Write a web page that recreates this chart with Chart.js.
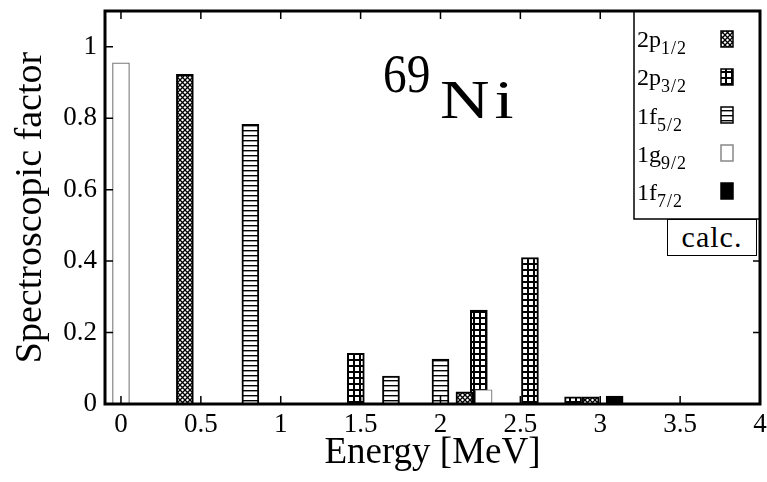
<!DOCTYPE html>
<html>
<head>
<meta charset="utf-8">
<script src="https://cdn.jsdelivr.net/npm/chart.js@4.4.0/dist/chart.umd.min.js"></script>
<style>
  html, body { margin:0; padding:0; background:#fff; }
  #wrap { position:relative; width:767px; height:482px; font-family:"Liberation Serif", "DejaVu Serif", serif; color:#000; }
  #chart { position:absolute; left:0; top:0; }
  .lab { position:absolute; left:637px; font-size:24px; line-height:1; white-space:nowrap; }
  .lab sub { font-size:18px; vertical-align:-7px; line-height:0; letter-spacing:1px; }
  #calc { position:absolute; left:667px; top:219px; width:90px; height:37px; box-sizing:border-box; border:1.5px solid #000; background:#fff; font-size:30px; line-height:34px; text-align:center; letter-spacing:1px; }
  #mass { position:absolute; left:383px; top:46px; font-size:55px; line-height:1; transform:scaleX(0.86); transform-origin:left top; }
  #elem { position:absolute; left:440px; top:73px; font-size:54px; line-height:1; letter-spacing:4px; transform:scaleX(1.27); transform-origin:left top; }
</style>
</head>
<body>
<div id="wrap">
  <canvas id="chart" width="767" height="482"></canvas>
  <div class="lab" style="top:27px">2p<sub>1/2</sub></div>
  <div class="lab" style="top:65px">2p<sub>3/2</sub></div>
  <div class="lab" style="top:104px">1f<sub>5/2</sub></div>
  <div class="lab" style="top:142px">1g<sub>9/2</sub></div>
  <div class="lab" style="top:180px">1f<sub>7/2</sub></div>
  <div id="calc">calc.</div>
  <div id="mass">69</div>
  <div id="elem">Ni</div>
</div>
<script>
// energies [MeV] and spectroscopic factors, per orbital
var p12E = [0.40, 2.15, 2.94];
var p12S = [0.923, 0.034, 0.02];
var p32E = [1.47, 2.24, 2.56, 2.83];
var p32S = [0.142, 0.263, 0.41, 0.02];
var f52E = [0.81, 1.69, 2.00];
var f52S = [0.783, 0.078, 0.126];
var g92E = [0.00, 2.27];
var g92S = [0.955, 0.04];
var f72E = [3.09];
var f72S = [0.022];

var xTicks = [0, 0.5, 1, 1.5, 2, 2.5, 3, 3.5, 4];
var yTicks = [0, 0.2, 0.4, 0.6, 0.8, 1];

var serif = '"Liberation Serif", "DejaVu Serif", serif';

function makePattern(size, draw) {
  var c = document.createElement('canvas');
  c.width = size; c.height = size;
  var g = c.getContext('2d');
  draw(g, size);
  return g.createPattern(c, 'repeat');
}

var crossHatch = makePattern(5, function(g, s) {
  g.fillStyle = '#fff'; g.fillRect(0, 0, s, s);
  g.strokeStyle = '#000'; g.lineWidth = 1.3;
  g.beginPath();
  g.moveTo(0, 0); g.lineTo(s, s);
  g.moveTo(s, 0); g.lineTo(0, s);
  g.stroke();
});
var squares = makePattern(6, function(g, s) {
  g.fillStyle = '#000'; g.fillRect(0, 0, s, s);
  g.fillStyle = '#fff'; g.fillRect(1, 1, 4, 4);
});
var stripes = makePattern(5, function(g, s) {
  g.fillStyle = '#fff'; g.fillRect(0, 0, s, s);
  g.fillStyle = '#000'; g.fillRect(0, 0, s, 1.4);
});

function pts(E, S) {
  return E.map(function(e, i) { return {x: e, y: S[i]}; });
}

var series = [
  {data: pts(g92E, g92S), backgroundColor: '#fff', borderColor: '#777', borderWidth: 1.2},
  {data: pts(p12E, p12S), backgroundColor: crossHatch, borderColor: '#000', borderWidth: 2},
  {data: pts(f52E, f52S), backgroundColor: stripes, borderColor: '#000', borderWidth: 2},
  {data: pts(p32E, p32S), backgroundColor: squares, borderColor: '#000', borderWidth: 2},
  {data: pts(f72E, f72S), backgroundColor: '#000', borderColor: '#000', borderWidth: 2}
];
series.forEach(function(d) { d.grouped = false; d.barThickness = 17; });

// legend swatches, same order as the text rows
var swatches = [
  {fill: crossHatch, stroke: '#000'},
  {fill: squares, stroke: '#000'},
  {fill: stripes, stroke: '#000'},
  {fill: '#fff', stroke: '#888'},
  {fill: '#000', stroke: '#000'}
];

var frame = {
  id: 'frame',
  afterDatasetsDraw: function(chart) {
    var ctx = chart.ctx, a = chart.chartArea;
    var xs = chart.scales.x, ys = chart.scales.y;
    ctx.save();
    ctx.strokeStyle = '#000';
    ctx.lineWidth = 1.5;
    ctx.beginPath();
    xTicks.forEach(function(v) {
      var px = xs.getPixelForValue(v);
      ctx.moveTo(px, a.bottom); ctx.lineTo(px, a.bottom - 8);
      ctx.moveTo(px, a.top); ctx.lineTo(px, a.top + 8);
    });
    yTicks.forEach(function(v) {
      var py = ys.getPixelForValue(v);
      ctx.moveTo(a.left, py); ctx.lineTo(a.left + 8, py);
      ctx.moveTo(a.right, py); ctx.lineTo(a.right - 7, py);
    });
    ctx.stroke();

    // legend box
    ctx.fillStyle = '#fff';
    ctx.fillRect(634, a.top, a.right - 634, 219 - a.top);
    ctx.lineWidth = 1.5;
    ctx.strokeRect(634, a.top, a.right - 634, 219 - a.top);
    swatches.forEach(function(s, i) {
      var y = 31 + 38 * i;
      ctx.fillStyle = s.fill;
      ctx.fillRect(721, y, 12, 16);
      ctx.strokeStyle = s.stroke;
      ctx.lineWidth = 1.5;
      ctx.strokeRect(721, y, 12, 16);
    });

    ctx.strokeStyle = '#000';
    ctx.lineWidth = 3;
    ctx.strokeRect(a.left, a.top, a.right - a.left, a.bottom - a.top);
    ctx.restore();
  }
};

new Chart(document.getElementById('chart'), {
  type: 'bar',
  data: {datasets: series},
  options: {
    responsive: false,
    animation: false,
    layout: {padding: {top: 11, right: 7, left: 0, bottom: 0}},
    plugins: {legend: {display: false}, tooltip: {enabled: false}},
    scales: {
      x: {
        type: 'linear', min: -0.1, max: 4, offset: false,
        afterBuildTicks: function(s) { s.ticks = xTicks.map(function(v) { return {value: v}; }); },
        afterFit: function(s) { s.height = 78; s.paddingLeft = 0; s.paddingRight = 0; },
        grid: {display: false, drawTicks: false},
        border: {display: false},
        ticks: {padding: 5, color: '#000', autoSkip: false, maxRotation: 0,
                font: {family: serif, size: 27},
                callback: function(v) { return String(v); }},
        title: {display: true, text: 'Energy [MeV]', color: '#000',
                font: {family: serif, size: 37}, padding: {top: 0, bottom: 7}}
      },
      y: {
        min: 0, max: 1.1,
        afterBuildTicks: function(s) { s.ticks = yTicks.map(function(v) { return {value: v}; }); },
        afterFit: function(s) { s.width = 105; s.paddingTop = 0; s.paddingBottom = 0; },
        grid: {display: false, drawTicks: false},
        border: {display: false},
        ticks: {padding: 8, color: '#000', font: {family: serif, size: 27},
                callback: function(v) { return String(v); }},
        title: {display: true, text: 'Spectroscopic factor', color: '#000',
                font: {family: serif, size: 38}, padding: {top: 8, bottom: 0}}
      }
    }
  },
  plugins: [frame]
});
</script>
</body>
</html>
